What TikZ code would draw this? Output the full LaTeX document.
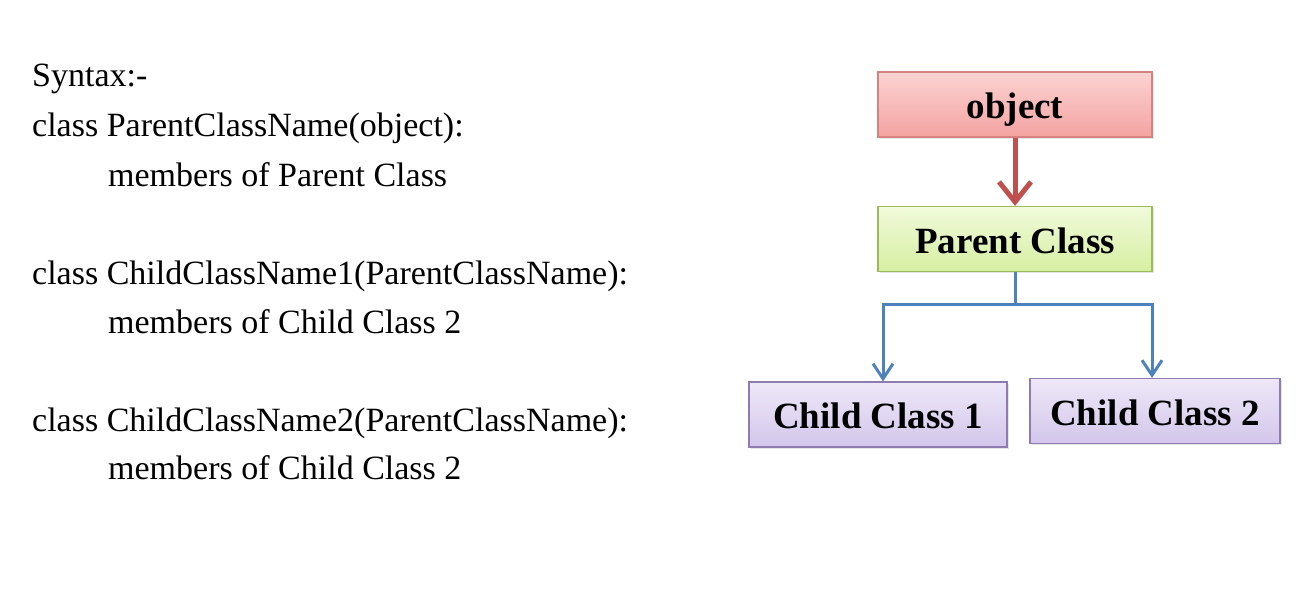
\documentclass[tikz,border=0pt]{standalone}
\usepackage{fontspec}
\setmainfont{Liberation Serif}
\usetikzlibrary{arrows.meta,shadows}
\definecolor{objred}{HTML}{C0504D}
\definecolor{objtop}{HTML}{FBD3D2}
\definecolor{objbot}{HTML}{F4A3A2}
\definecolor{pargreen}{HTML}{9BBB59}
\definecolor{partop}{HTML}{F1FADB}
\definecolor{parbot}{HTML}{D6EFA2}
\definecolor{chpurple}{HTML}{8E7CB0}
\definecolor{chtop}{HTML}{EEE8F8}
\definecolor{chbot}{HTML}{D3C6EB}
\definecolor{linkblue}{HTML}{4F81BD}
\begin{document}
\begin{tikzpicture}[x=1pt,y=1pt,
		code/.style={anchor=base west,inner sep=0pt,font=\fontsize{34}{40}\selectfont},
		box/.style={minimum height=65pt,inner sep=0pt,line width=1.2pt,
			text height=33pt,text depth=4pt,
			font=\fontsize{37}{40}\selectfont\bfseries,
			drop shadow={opacity=0.2,shadow xshift=1.5pt,shadow yshift=-2pt}},
		objbox/.style={box,draw=objred!70,top color=objtop,bottom color=objbot,minimum width=274pt},
		parbox/.style={box,draw=pargreen,top color=partop,bottom color=parbot,minimum width=274pt},
		childbox/.style={box,draw=chpurple,top color=chtop,bottom color=chbot}]
	\useasboundingbox[fill=white] (0,0) rectangle (1308,593);
	% syntax on the left
	\node[code] (syntax) at (32,506) {Syntax:-};
	\node[code] (pdef) at (32,456) {class ParentClassName(object):};
	\node[code] (pbody) at (108,406) {members of Parent Class};
	\node[code] (c1def) at (32,308) {class ChildClassName1(ParentClassName):};
	\node[code] (c1body) at (108,259) {members of Child Class 2};
	\node[code] (c2def) at (32,161) {class ChildClassName2(ParentClassName):};
	\node[code] (c2body) at (108,113) {members of Child Class 2};
	% hierarchy on the right
	\node[objbox] (obj) at (1015,488.5) {object};
	\node[parbox] (parent) at (1015,354) {Parent Class};
	\node[childbox,minimum width=258pt] (child1) at (878,178.5) {Child Class 1};
	\node[childbox,minimum width=250pt] (child2) at (1155,182) {Child Class 2};
	\coordinate (split) at (1015,288);
	\draw[objred,line width=5pt,-{Straight Barb[length=20pt,width=32pt,line width=5pt]}] (obj.south) -- (parent.north);
	\draw[linkblue,line width=3pt] (parent.south) -- (split);
	\draw[linkblue,line width=3pt,-{Straight Barb[length=15pt,width=20pt,line width=3pt]}] (split) -| ([xshift=5pt]child1.north);
	\draw[linkblue,line width=3pt,-{Straight Barb[length=15pt,width=20pt,line width=3pt]}] (split) -| ([xshift=-3pt]child2.north);
\end{tikzpicture}
\end{document}
